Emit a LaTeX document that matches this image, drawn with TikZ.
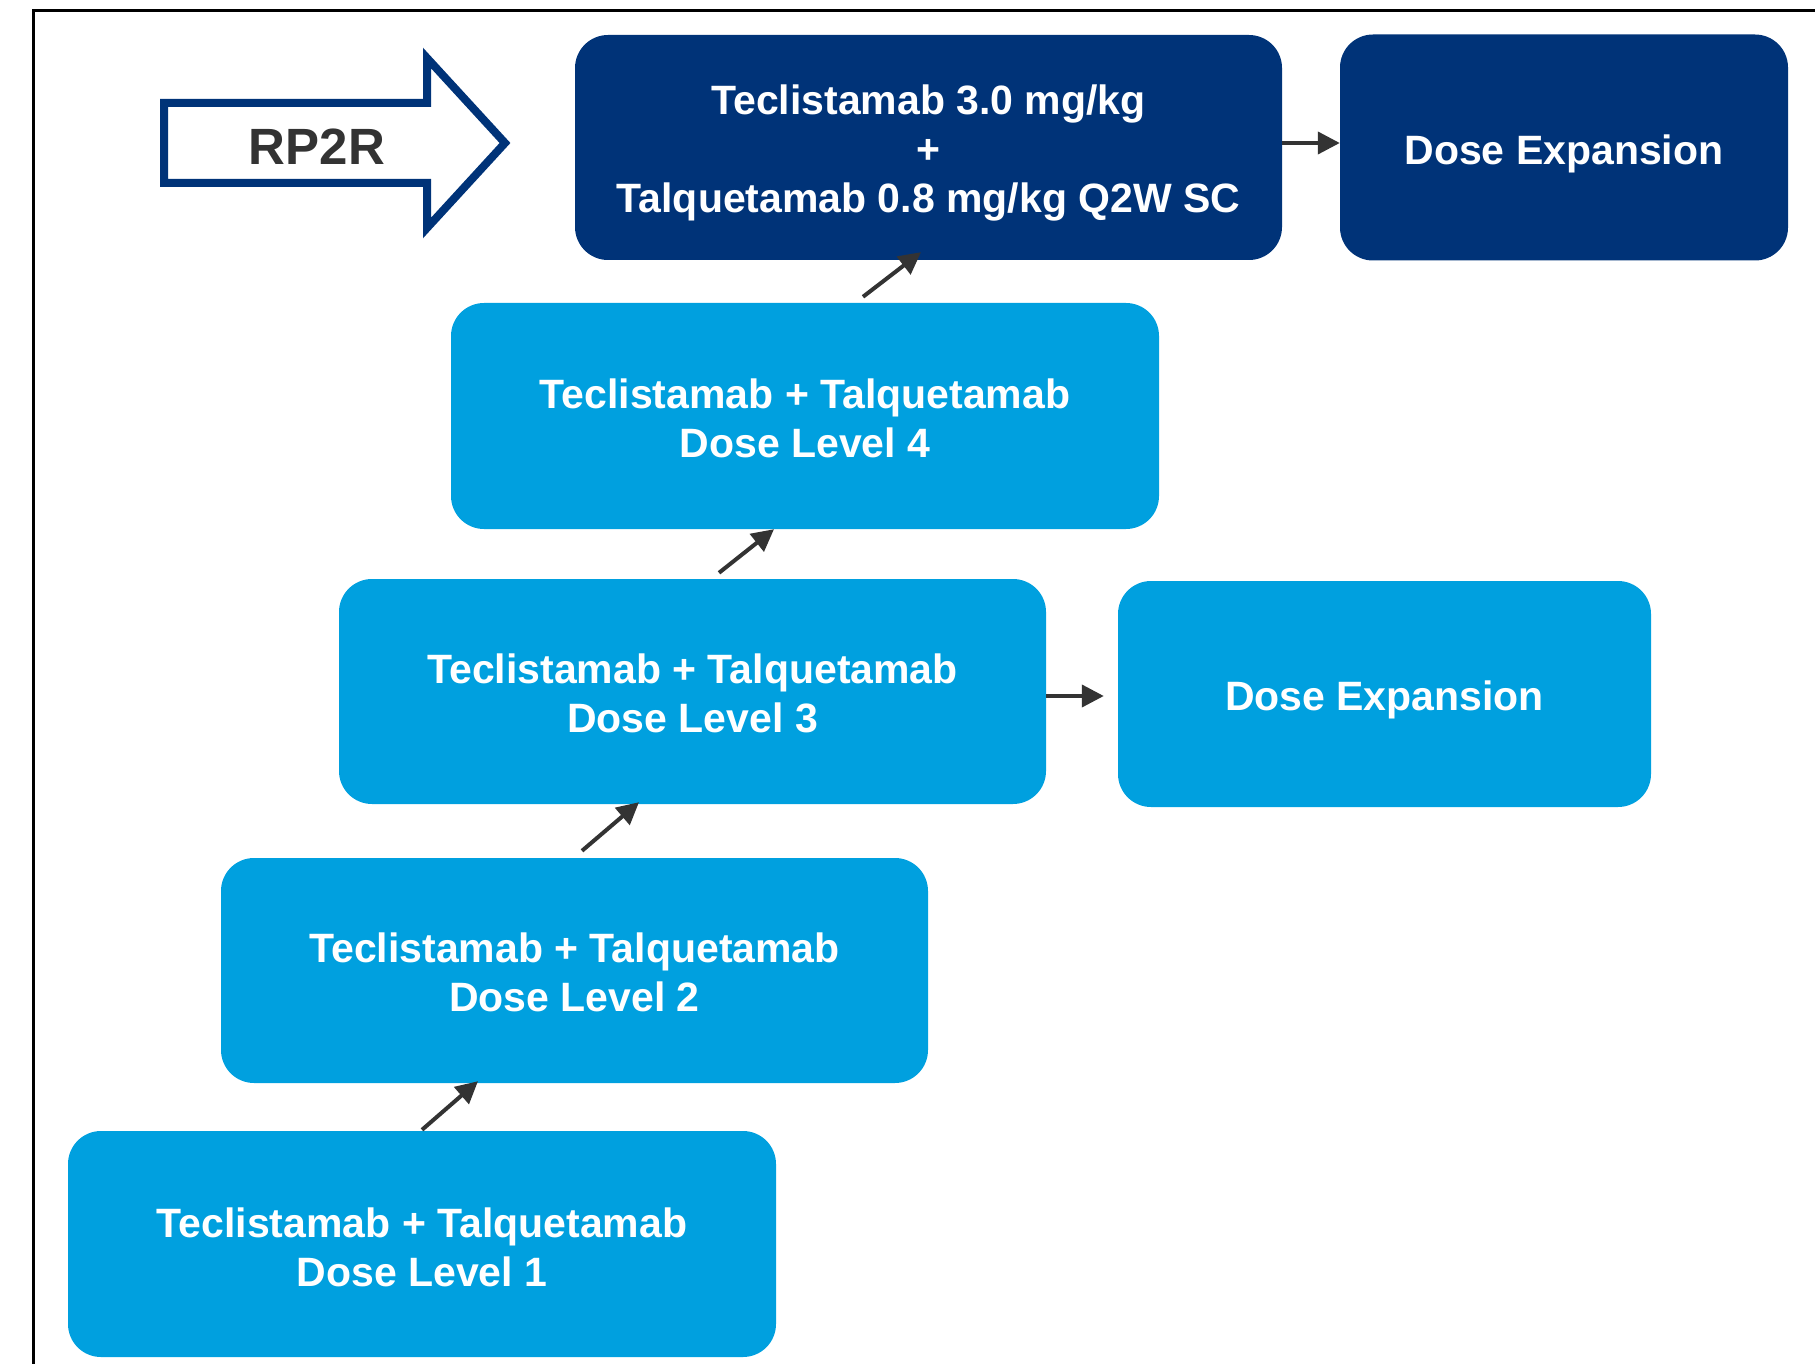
\documentclass[tikz,border=0pt]{standalone}
\usepackage{fontspec}
\setmainfont{Liberation Sans}
\usetikzlibrary{arrows.meta,calc}
\definecolor{navy}{RGB}{0,51,120}
\definecolor{sky}{RGB}{0,160,223}
\definecolor{ink}{RGB}{51,51,51}
\begin{document}
\begin{tikzpicture}[x=1pt,y=-1pt,
  box/.style={rectangle,rounded corners=33pt,inner sep=0pt},
  darkbox/.style={box,fill=navy},
  lightbox/.style={box,fill=sky},
  boxtext/.style={inner sep=0pt,align=center,text=white,
    font=\bfseries\fontsize{41}{49}\selectfont},
  conn/.style={draw=ink,line width=4pt,-{Triangle[length=22pt,width=22pt]}}]
\useasboundingbox (0,0) rectangle (1815,1364);
% frame (top and left edges)
\draw[line width=3pt,black] (33,1364) -- (33,11) -- (1815,11);
% boxes
\node[darkbox,minimum width=707pt,minimum height=225pt] (top) at (928.5,147.5) {};
\node[darkbox,minimum width=448pt,minimum height=226pt] (dexpA) at (1564,147.5) {};
\node[lightbox,minimum width=708pt,minimum height=226pt] (dl4) at (805,416) {};
\node[lightbox,minimum width=707pt,minimum height=225pt] (dl3) at (692.5,691.5) {};
\node[lightbox,minimum width=533pt,minimum height=226pt] (dexpB) at (1384.5,694) {};
\node[lightbox,minimum width=707pt,minimum height=225pt] (dl2) at (574.5,970.5) {};
\node[lightbox,minimum width=708pt,minimum height=226pt] (dl1) at (422,1244) {};
% box texts
\node[boxtext] (topT) at ([yshift=-5pt]top.center) {Teclistamab 3.0 mg/kg\\+\\Talquetamab 0.8 mg/kg Q2W SC};
\node[boxtext,text depth=0pt] (dexpAT) at ([yshift=-2pt]dexpA.center) {Dose Expansion};
\node[boxtext] (dl4T) at ([yshift=-2pt]dl4.center) {Teclistamab + Talquetamab\\Dose Level 4};
\node[boxtext] (dl3T) at ([yshift=-2pt]dl3.center) {Teclistamab + Talquetamab\\Dose Level 3};
\node[boxtext,text depth=0pt] (dexpBT) at ([yshift=-2pt]dexpB.center) {Dose Expansion};
\node[boxtext] (dl2T) at ([yshift=-2pt]dl2.center) {Teclistamab + Talquetamab\\Dose Level 2};
\node[boxtext] (dl1T) at ([yshift=-3pt]dl1.center) {Teclistamab + Talquetamab\\Dose Level 1};
% RP2R arrow
\draw[navy,line width=8pt,miter limit=10] (164,103) -- (427,103) -- (427,58) -- (505,143) -- (427,228) -- (427,183) -- (164,183) -- cycle;
\node[anchor=base,text=ink,font=\bfseries\fontsize{51}{60}\selectfont,inner sep=0pt] (rp2r) at (317,165) {RP2R};
% connectors
\draw[conn] ([yshift=4.5pt]top.east) -- ([yshift=4.5pt]top.east -| dexpA.west);
\draw[conn,shorten >=14pt] ([yshift=-4.5pt]dl3.east) -- ([yshift=-4.5pt]dl3.east -| dexpB.west);
\draw[conn] ([xshift=58pt,yshift=6pt]dl4.north) -- ([xshift=-7.5pt,yshift=8pt]top.south);
\draw[conn] ([xshift=26.5pt,yshift=6pt]dl3.north) -- ([xshift=-31pt,yshift=0pt]dl4.south);
\draw[conn] ([xshift=7.5pt,yshift=7pt]dl2.north) -- ([xshift=-53.5pt,yshift=2pt]dl3.south);
\draw[conn] ([xshift=0pt,yshift=1pt]dl1.north) -- ([xshift=-96.5pt,yshift=2pt]dl2.south);
\end{tikzpicture}
\end{document}
